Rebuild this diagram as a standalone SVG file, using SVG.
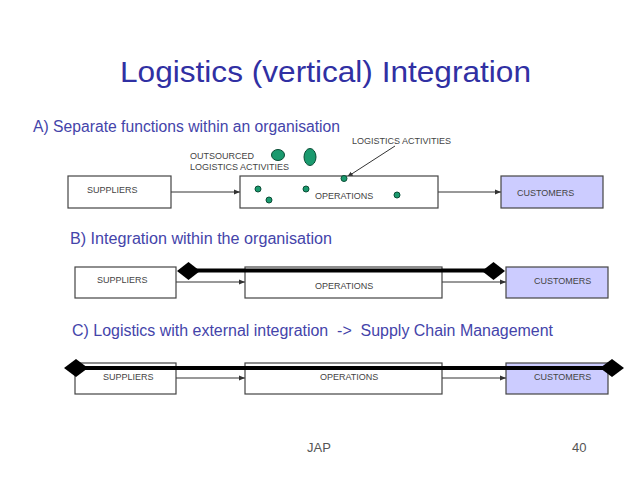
<svg xmlns="http://www.w3.org/2000/svg" width="640" height="480" viewBox="0 0 640 480">
<defs>
<style>
.title{font-family:"Liberation Sans",Arial,sans-serif;font-size:30px;fill:#3030a3}
.sub{font-family:"Liberation Sans",Arial,sans-serif;font-size:16px;fill:#4444aa}
.lbl{font-family:"Liberation Sans",Arial,sans-serif;font-size:9px;fill:#444}
.foot{font-family:"Liberation Sans",Arial,sans-serif;font-size:13px;fill:#555}
.box{fill:#fff;stroke:#444;stroke-width:1.2}
.cust{fill:#ccccff;stroke:#444;stroke-width:1.2}
.dot{fill:#1a9a6e;stroke:#0b4d36;stroke-width:1}
.thin{stroke:#333;stroke-width:1;fill:none}
.thick{stroke:#000;stroke-width:4;fill:none}
.dia{fill:#000}
</style>
<marker id="ah" viewBox="0 0 10 10" refX="10" refY="5" markerWidth="6" markerHeight="6" orient="auto" markerUnits="userSpaceOnUse">
<path d="M0,1 L10,5 L0,9 z" fill="#333"/>
</marker>
</defs>
<rect width="640" height="480" fill="#fff"/>
<text class="title" x="120" y="82" textLength="411" lengthAdjust="spacingAndGlyphs">Logistics (vertical) Integration</text>
<text class="sub" x="33" y="132" textLength="307" lengthAdjust="spacingAndGlyphs">A) Separate functions within an organisation</text>
<text class="sub" x="70" y="244" textLength="262" lengthAdjust="spacingAndGlyphs">B) Integration within the organisation</text>
<text class="sub" x="72" y="336" textLength="481" lengthAdjust="spacingAndGlyphs" xml:space="preserve">C) Logistics with external integration  -&gt;  Supply Chain Management</text>

<g id="connectors">
<line class="thin" x1="171" y1="192" x2="240" y2="192" marker-end="url(#ah)"/>
<line class="thin" x1="438" y1="192" x2="501" y2="192" marker-end="url(#ah)"/>
<line class="thin" x1="395" y1="146" x2="347" y2="177" marker-end="url(#ah)"/>
<line class="thin" x1="176" y1="282" x2="245" y2="282" marker-end="url(#ah)"/>
<line class="thin" x1="442" y1="282" x2="506" y2="282" marker-end="url(#ah)"/>
<line class="thin" x1="176" y1="378" x2="245" y2="378" marker-end="url(#ah)"/>
<line class="thin" x1="442" y1="378" x2="506" y2="378" marker-end="url(#ah)"/>
</g>

<g id="a-suppliers"><rect class="box" x="68" y="176" width="103" height="32"/><text class="lbl" x="87" y="193">SUPPLIERS</text></g>
<g id="a-operations"><rect class="box" x="240" y="176" width="198" height="32"/><text class="lbl" x="315" y="199">OPERATIONS</text></g>
<g id="a-customers"><rect class="cust" x="501" y="176" width="102" height="32"/><text class="lbl" x="517" y="196">CUSTOMERS</text></g>
<g id="a-outsourced">
<text class="lbl" x="190" y="159">OUTSOURCED</text>
<text class="lbl" x="190" y="170">LOGISTICS ACTIVITIES</text>
<ellipse class="dot" cx="278" cy="155" rx="6.5" ry="5.5"/>
<ellipse class="dot" cx="310" cy="157" rx="6" ry="8.5"/>
</g>
<g id="a-logistics">
<text class="lbl" x="352" y="144">LOGISTICS ACTIVITIES</text>
<circle class="dot" cx="258" cy="189" r="3"/>
<circle class="dot" cx="269" cy="200" r="3"/>
<circle class="dot" cx="306" cy="189" r="3"/>
<circle class="dot" cx="344" cy="178.5" r="3"/>
<circle class="dot" cx="397" cy="195" r="3"/>
</g>

<g id="b-suppliers"><rect class="box" x="75" y="267" width="101" height="31"/><text class="lbl" x="97" y="283">SUPPLIERS</text></g>
<g id="b-operations"><rect class="box" x="245" y="267" width="197" height="31"/><text class="lbl" x="315" y="289">OPERATIONS</text></g>
<g id="b-customers"><rect class="cust" x="506" y="267" width="102" height="31"/><text class="lbl" x="534" y="284">CUSTOMERS</text></g>
<g id="b-integration">
<line class="thick" x1="188" y1="270.5" x2="494" y2="270.5"/>
<polygon class="dia" points="177,271 188.5,262 200,271 188.5,280"/>
<polygon class="dia" points="482,271 493.5,262 505,271 493.5,280"/>
</g>

<g id="c-suppliers"><rect class="box" x="75" y="363" width="101" height="31"/><text class="lbl" x="103" y="380">SUPPLIERS</text></g>
<g id="c-operations"><rect class="box" x="245" y="363" width="197" height="31"/><text class="lbl" x="320" y="380">OPERATIONS</text></g>
<g id="c-customers"><rect class="cust" x="506" y="363" width="102" height="31"/><text class="lbl" x="534" y="380">CUSTOMERS</text></g>
<g id="c-integration">
<line class="thick" x1="76" y1="368" x2="612" y2="368"/>
<polygon class="dia" points="64,368 76,359 88,368 76,377"/>
<polygon class="dia" points="600,368 612,359 624,368 612,377"/>
</g>

<text class="foot" x="307" y="452">JAP</text>
<text class="foot" x="572" y="452">40</text>
</svg>
